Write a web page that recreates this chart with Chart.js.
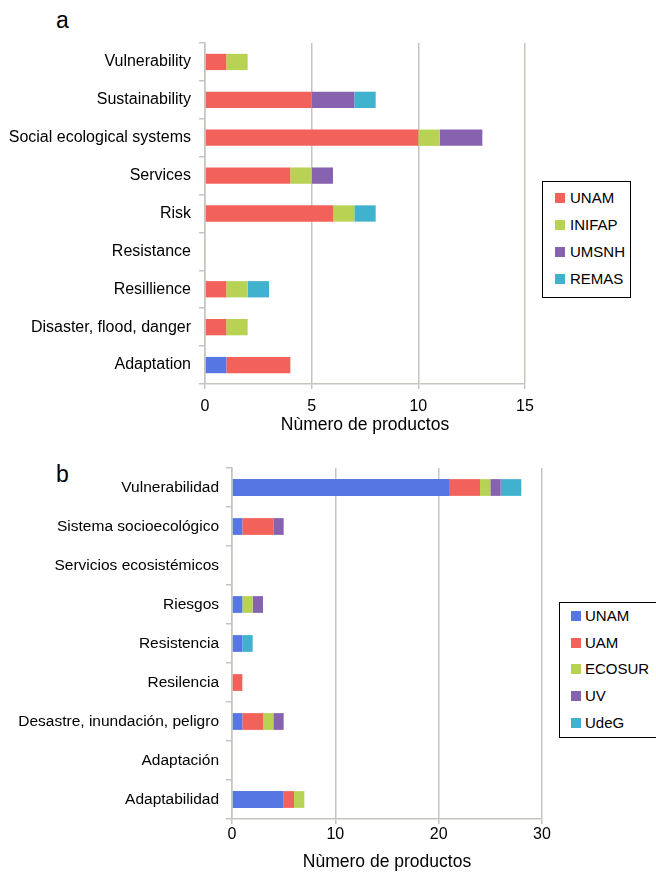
<!DOCTYPE html>
<html><head><meta charset="utf-8">
<script src="https://cdn.jsdelivr.net/npm/chart.js@4/dist/chart.umd.min.js"></script>
<style>
body{margin:0;width:656px;height:873px;position:relative;background:#fff;font-family:"Liberation Sans",Arial,sans-serif;overflow:hidden}
.wrap{position:absolute;left:0;width:656px}
.plabel{position:absolute;font-size:23px;color:#000;line-height:1}
.legend{position:absolute;border:1px solid #000;background:#fff;box-sizing:border-box}
.legend .item{position:absolute;font-size:15px;line-height:15px;color:#000;white-space:nowrap}
.legend .sw{position:absolute;width:10px;height:10px}
</style></head>
<body>
<div class="plabel" style="left:56px;top:9px">a</div>
<div class="plabel" style="left:56px;top:463px">b</div>
<div class="wrap" style="top:0;height:440px"><canvas id="ca"></canvas></div>
<div class="wrap" style="top:440px;height:433px"><canvas id="cb"></canvas></div>
<div class="legend" id="lega" style="left:542px;top:181px;width:89px;height:117px"></div>
<div class="legend" id="legb" style="left:559px;top:602px;width:100px;height:136px"></div>
<script>
// ---- Data panel a ----
const catsA = ['Vulnerability','Sustainability','Social ecological systems','Services','Risk','Resistance','Resillience','Disaster, flood, danger','Adaptation'];
const aExtra  = [0,0,0,0,0,0,0,0,1];
const aUNAM   = [1,5,10,4,6,0,1,1,3];
const aINIFAP = [1,0,1,1,1,0,1,1,0];
const aUMSNH  = [0,2,2,1,0,0,0,0,0];
const aREMAS  = [0,1,0,0,1,0,1,0,0];
const ticksA  = [0,5,10,15];
// ---- Data panel b ----
const catsB = ['Vulnerabilidad','Sistema socioecológico','Servicios ecosistémicos','Riesgos','Resistencia','Resilencia','Desastre, inundación, peligro','Adaptación','Adaptabilidad'];
const bUNAM   = [21,1,0,1,1,0,1,0,5];
const bUAM    = [3,3,0,0,0,1,2,0,1];
const bECOSUR = [1,0,0,1,0,0,1,0,1];
const bUV     = [1,1,0,1,0,0,1,0,0];
const bUdeG   = [2,0,0,0,1,0,0,0,0];
const ticksB  = [0,10,20,30];
const axisTitle = 'Nùmero de productos';

const C = {blue:'#5576e3', red:'#f2625a', green:'#b8d354', purple:'#8762ae', cyan:'#41b2ce'};
const GRID = '#c5c5bd';
const FONT = '"Liberation Sans", Arial, sans-serif';

function makeChart(id, cats, sets, ticks, max, opt){
  return new Chart(document.getElementById(id), {
    type:'bar',
    data:{labels:cats, datasets:sets.map(s=>({label:s.label, data:s.data, backgroundColor:s.color, borderWidth:0, barPercentage:0.43, categoryPercentage:1}))},
    options:{
      indexAxis:'y', responsive:true, maintainAspectRatio:false, animation:false,
      layout:{padding:{top:opt.top, right:opt.right, left:0, bottom:0}},
      plugins:{legend:{display:false}, tooltip:{enabled:false}},
      scales:{
        x:{stacked:true, min:0, max:max,
          afterBuildTicks:s=>{s.ticks = ticks.map(v=>({value:v}));},
          afterFit:s=>{s.height = opt.xh;},
          grid:{color:GRID, lineWidth:1.5, tickLength:5, drawTicks:true},
          border:{color:GRID, width:1.5},
          ticks:{color:'#000', font:{family:FONT, size:16}, padding:opt.xpad, maxRotation:0},
          title:{display:true, text:axisTitle, color:'#000', font:{family:FONT, size:17.5}, padding:{top:0,bottom:opt.tpad}}
        },
        y:{stacked:true,
          afterFit:s=>{s.width = opt.yw;},
          grid:{drawOnChartArea:false, color:GRID, lineWidth:1.5, tickLength:6, offset:true},
          border:{color:GRID, width:1.5},
          ticks:{color:'#000', font:{family:FONT, size:opt.yfs}, padding:opt.ypad, autoSkip:false}
        }
      }
    }
  });
}

const setsA = [
  {label:'', data:aExtra, color:C.blue},
  {label:'UNAM', data:aUNAM, color:C.red},
  {label:'INIFAP', data:aINIFAP, color:C.green},
  {label:'UMSNH', data:aUMSNH, color:C.purple},
  {label:'REMAS', data:aREMAS, color:C.cyan}
];
const setsB = [
  {label:'UNAM', data:bUNAM, color:C.blue},
  {label:'UAM', data:bUAM, color:C.red},
  {label:'ECOSUR', data:bECOSUR, color:C.green},
  {label:'UV', data:bUV, color:C.purple},
  {label:'UdeG', data:bUdeG, color:C.cyan}
];

makeChart('ca', catsA, setsA, ticksA, 15, {top:43, right:131, xh:56, yw:205, xpad:8, ypad:8, tpad:4, yfs:16});
makeChart('cb', catsB, setsB, ticksB, 30, {top:28, right:114, xh:54, yw:232, xpad:1, ypad:7, tpad:0, yfs:15.5});

function buildLegend(id, sets, y0, step, swx, tx){
  const el = document.getElementById(id);
  sets.filter(s=>s.label).forEach((s,i)=>{
    const sw = document.createElement('div'); sw.className='sw';
    sw.style.background = s.color; sw.style.left = swx+'px'; sw.style.top = (y0 + i*step - 5)+'px';
    const t = document.createElement('div'); t.className='item';
    t.textContent = s.label; t.style.left = tx+'px'; t.style.top = (y0 + i*step - 8)+'px';
    el.appendChild(sw); el.appendChild(t);
  });
}
buildLegend('lega', setsA, 16, 27, 12, 27);
buildLegend('legb', setsB, 13, 26.7, 11, 25);
</script>
</body></html>
